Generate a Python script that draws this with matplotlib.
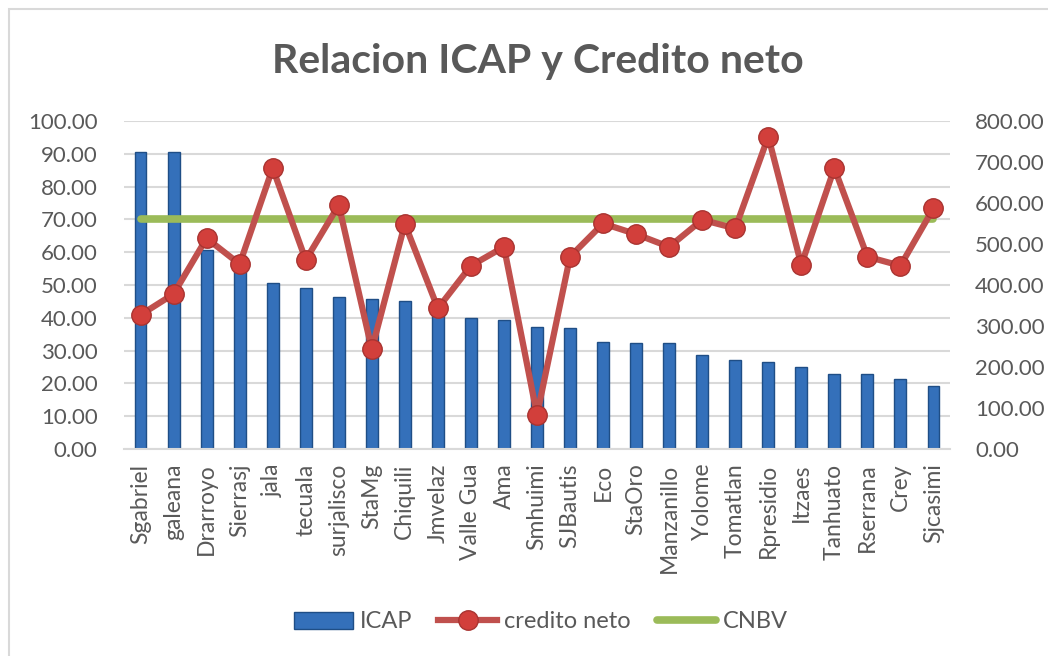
import matplotlib
matplotlib.use("Agg")
import matplotlib.pyplot as plt
from matplotlib.patches import Rectangle
from matplotlib.lines import Line2D
from matplotlib.patches import Patch

categories = ["Sgabriel", "galeana", "Drarroyo", "Sierrasj", "jala", "tecuala",
              "surjalisco", "StaMg", "Chiquili", "Jmvelaz", "Valle Gua", "Ama",
              "Smhuimi", "SJBautis", "Eco", "StaOro", "Manzanillo", "Yolome",
              "Tomatlan", "Rpresidio", "Itzaes", "Tanhuato", "Rserrana", "Crey",
              "Sjcasimi"]
icap = [90.5, 90.5, 60.7, 58.8, 50.7, 49.0, 46.4, 45.6, 45.1, 43.2, 39.8, 39.3,
        37.3, 36.8, 32.7, 32.2, 32.2, 28.7, 27.1, 26.4, 25.1, 23.0, 23.0, 21.2, 19.2]
credito_neto = [327, 378, 514, 451, 685, 461, 595, 243, 549, 343, 447, 493,
                83, 469, 550, 524, 493, 559, 538, 762, 449, 685, 469, 447, 587]
cnbv = [70] * len(categories)

plt.rcParams['font.family'] = ['Lato', 'DejaVu Sans']
grey = '#595959'

fig = plt.figure(figsize=(10.48, 6.56), dpi=100)
fig.patches.append(Rectangle((9/1048, -0.1), 1.2, (656-9)/656 + 0.1,
                             transform=fig.transFigure, fill=False,
                             edgecolor='#D9D9D9', linewidth=1.5, zorder=0))

ax = fig.add_axes([124/1048, 1-449/656, (950-124)/1048, (449-121)/656])
ax2 = ax.twinx()

x = list(range(len(categories)))
ax.bar(x, icap, width=0.36, color='#3470BA', edgecolor='#1F4E86', linewidth=1.0, zorder=2)
ax.plot(x, cnbv, color='#9BBB59', linewidth=5.5, solid_capstyle='round', zorder=4)

ax2.plot(x, credito_neto, color='#C0504D', linewidth=4.5, marker='o', markersize=14,
         markerfacecolor='#D23F3B', markeredgecolor='#A93431', markeredgewidth=1.0, zorder=3)

ax.set_ylim(0, 100)
ax2.set_ylim(0, 800)
ax.set_xlim(-0.5, len(categories) - 0.5)
ax.set_yticks(range(0, 101, 10))
ax.set_yticklabels([f"{v:.2f}" for v in range(0, 101, 10)])
ax2.set_yticks(range(0, 801, 100))
ax2.set_yticklabels([f"{v:.2f}" for v in range(0, 801, 100)])
ax.set_xticks(x)
ax.set_xticklabels(categories, rotation=90)

ax.grid(axis='y', color='#D9D9D9', linewidth=1.5, zorder=0)
ax.set_axisbelow(True)
for a in (ax, ax2):
    for s in a.spines.values():
        s.set_visible(False)
ax.spines['bottom'].set_visible(True)
ax.spines['bottom'].set_color('#D9D9D9')
ax.spines['bottom'].set_linewidth(1.5)

ax.tick_params(axis='y', length=0, labelsize=16, labelcolor=grey, pad=19)
ax2.tick_params(axis='y', length=0, labelsize=16, labelcolor=grey, pad=18)
ax.tick_params(axis='x', length=0, labelsize=16.5, labelcolor=grey, pad=10.5)

ax.set_zorder(1)
ax2.set_zorder(2)
ax.patch.set_visible(False)

fig.text(538/1048, 1-62/656, "Relacion ICAP y Credito neto", ha='center', va='center',
         fontsize=29.5, fontweight='bold', color=grey)

handles = [Patch(facecolor='#3470BA', edgecolor='#1F4E86'),
           Line2D([0], [0], color='#C0504D', linewidth=4.5, marker='o', markersize=14,
                  markerfacecolor='#D23F3B', markeredgecolor='#A93431'),
           Line2D([0], [0], color='#9BBB59', linewidth=5.5, solid_capstyle='round')]
fig.legend(handles, ["ICAP", "credito neto", "CNBV"], loc='center',
           bbox_to_anchor=(541/1048, 1-622/656), ncol=3, frameon=False,
           fontsize=17, labelcolor=grey, handlelength=2.5, handletextpad=0.3,
           columnspacing=1.1)

fig.savefig("out.png", dpi=100)
